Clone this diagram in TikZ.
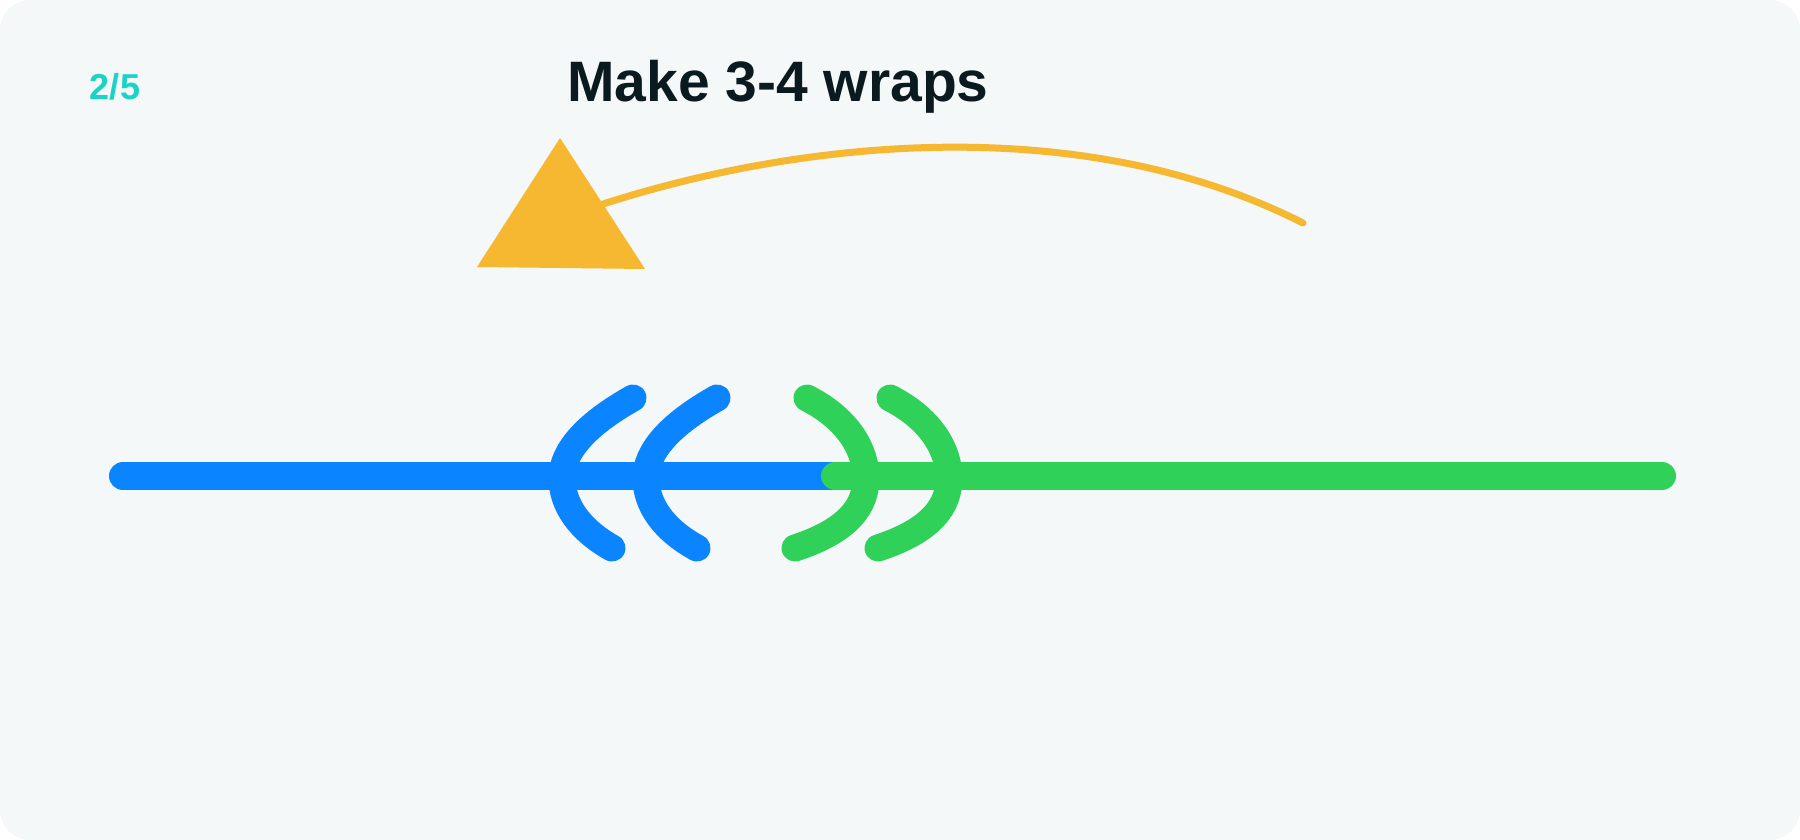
\documentclass[tikz,border=0pt]{standalone}
\usepackage{fontspec}
\setmainfont{Liberation Sans}
\begin{document}
\begin{tikzpicture}[x=1pt,y=-1pt,
  rope/.style={line width=28pt,line cap=round},
  wrap/.style={line width=27pt,line cap=round}]
\definecolor{bg}{HTML}{F4F8F9}
\definecolor{bl}{HTML}{0A84FF}
\definecolor{gr}{HTML}{30D158}
\definecolor{og}{HTML}{F6B731}
\definecolor{tl}{HTML}{19D3C5}
\definecolor{tx}{HTML}{0B1A1F}
\useasboundingbox (0,0) rectangle (1800,840);
\fill[bg,rounded corners=30pt] (0,0) rectangle (1800,840);
\node[text=tl,font=\bfseries\fontsize{36}{42}\selectfont] (step) at (115,87) {2/5};
\node[text=tx,font=\bfseries\fontsize{57}{66}\selectfont] (title) at (778,87) {Make 3-4 wraps};
\coordinate (la) at (123,476); \coordinate (mid) at (835,476); \coordinate (rb) at (1662,476);
\draw[rope,bl] (la) -- (mid);
\draw[rope,gr] (mid) -- (rb);
\draw[wrap,bl] (633,398) .. controls (585,425) and (562,452) .. (562,478) .. controls (562,505) and (580,530) .. (612,548);
\draw[wrap,bl] (717,398) .. controls (669,425) and (646,452) .. (646,478) .. controls (646,505) and (664,530) .. (697,548);
\draw[wrap,gr] (807,398) .. controls (850,420) and (866,452) .. (866,478) .. controls (866,505) and (850,530) .. (795,548);
\draw[wrap,gr] (890,398) .. controls (933,420) and (949,452) .. (949,478) .. controls (949,505) and (933,530) .. (878,548);
\coordinate (as) at (1303,223); \coordinate (ae) at (600,205);
\draw[og,line width=7pt,line cap=round] (as) .. controls (1080,110) and (800,140) .. (ae);
\fill[og] (560,138) -- (477,267) -- (645,269) -- cycle;
\end{tikzpicture}
\end{document}
